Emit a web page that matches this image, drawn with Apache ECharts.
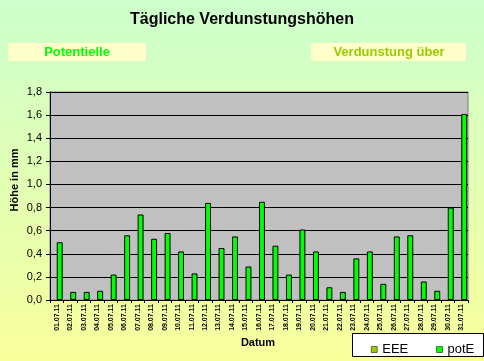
<!DOCTYPE html>
<html>
<head>
<meta charset="utf-8">
<script src="https://cdn.jsdelivr.net/npm/echarts@6/dist/echarts.min.js"></script>
<style>html,body{margin:0;padding:0;}#c{width:484px;height:361px;}</style>
</head>
<body>
<div id="c"></div>
<script>
var categories = ['01.07.11','02.07.11','03.07.11','04.07.11','05.07.11','06.07.11','07.07.11','08.07.11','09.07.11','10.07.11','11.07.11','12.07.11','13.07.11','14.07.11','15.07.11','16.07.11','17.07.11','18.07.11','19.07.11','20.07.11','21.07.11','22.07.11','23.07.11','24.07.11','25.07.11','26.07.11','27.07.11','28.07.11','29.07.11','30.07.11','31.07.11'];
var potE = [0.50,0.07,0.07,0.08,0.22,0.56,0.74,0.53,0.58,0.42,0.23,0.84,0.45,0.55,0.29,0.85,0.47,0.22,0.61,0.42,0.11,0.07,0.36,0.42,0.14,0.55,0.56,0.16,0.08,0.80,1.61];
var EEE = [null,null,null,null,null,null,null,null,null,null,null,null,null,null,null,null,null,null,null,null,null,null,null,null,null,null,null,null,null,null,null];
var yTicks = {min: 0, max: 1.8, step: 0.2};

var chart = echarts.init(document.getElementById('c'));
var font = 'Arial, "Liberation Sans", sans-serif';
chart.setOption({
  animation: false,
  backgroundColor: {type:'linear', x:0, y:0, x2:0, y2:1, colorStops:[{offset:0,color:'#CCFFCC'},{offset:1,color:'#F8FF9C'}]},
  textStyle: {fontFamily: font},
  grid: {left: 50, right: 16, top: 92, bottom: 61, show: true, backgroundColor: '#C0C0C0', borderColor: '#808080', borderWidth: 1},
  legend: {
    left: 366, top: 338, itemWidth: 6, itemHeight: 6, itemGap: 28,
    icon: 'rect',
    textStyle: {fontSize: 13, color: '#000', fontFamily: font},
    data: [{name:'EEE', itemStyle:{borderColor:'#000', borderWidth:0.5}}, {name:'potE', itemStyle:{borderColor:'#000', borderWidth:0.5}}]
  },
  graphic: [
    {type:'rect', left: 352, top: 333, shape:{width:131, height:23}, style:{fill:'#fff', stroke:'#000', lineWidth:1}, z: -1},
    {type:'text', x: 242, y: 20, style:{text:'Tägliche Verdunstungshöhen', font:'bold 16px ' + font, fill:'#000', textAlign:'center', textVerticalAlign:'middle'}},
    {type:'rect', left: 8, top: 43, shape:{width:138, height:18}, style:{fill:'#FFFFCC'}},
    {type:'text', x: 77, y: 52, style:{text:'Potentielle', font:'bold 13px ' + font, fill:'#00FF00', textAlign:'center', textVerticalAlign:'middle'}},
    {type:'rect', left: 311, top: 43, shape:{width:155, height:18}, style:{fill:'#FFFFCC'}},
    {type:'text', x: 389, y: 52, style:{text:'Verdunstung über', font:'bold 13px ' + font, fill:'#99CC00', textAlign:'center', textVerticalAlign:'middle'}},
    {type:'text', x: 15, y: 180, rotation: Math.PI/2, style:{text:'Höhe in mm', font:'bold 11px ' + font, fill:'#000', textAlign:'center', textVerticalAlign:'middle'}},
    {type:'text', x: 258, y: 343, style:{text:'Datum', font:'bold 11px ' + font, fill:'#000', textAlign:'center', textVerticalAlign:'middle'}}
  ],
  xAxis: {
    type: 'category', data: categories,
    axisLine: {lineStyle: {color: '#000', width: 1}},
    axisTick: {show: true, length: 3, lineStyle: {color: '#000'}},
    axisLabel: {rotate: 90, interval: 0, fontSize: 7, fontWeight: 'bold', color: '#000', margin: 4, fontFamily: font}
  },
  yAxis: {
    type: 'value', min: yTicks.min, max: yTicks.max, interval: yTicks.step,
    axisLine: {show: true, lineStyle: {color: '#000', width: 1}},
    axisTick: {show: true, length: 4, lineStyle: {color: '#000'}},
    splitLine: {lineStyle: {color: '#000', width: 1}},
    axisLabel: {fontSize: 11, color: '#000', margin: 8, fontFamily: font, formatter: function(v){ return v.toFixed(1).replace('.', ','); }}
  },
  series: [
    {name: 'EEE', type: 'bar', data: EEE, barGap: '0%', barCategoryGap: '12%', itemStyle: {color: '#99CC00', borderColor: '#000', borderWidth: 1}},
    {name: 'potE', type: 'bar', data: potE, barGap: '0%', barCategoryGap: '12%', itemStyle: {color: '#00FF00', borderColor: '#000', borderWidth: 1}}
  ]
});
</script>
</body>
</html>
